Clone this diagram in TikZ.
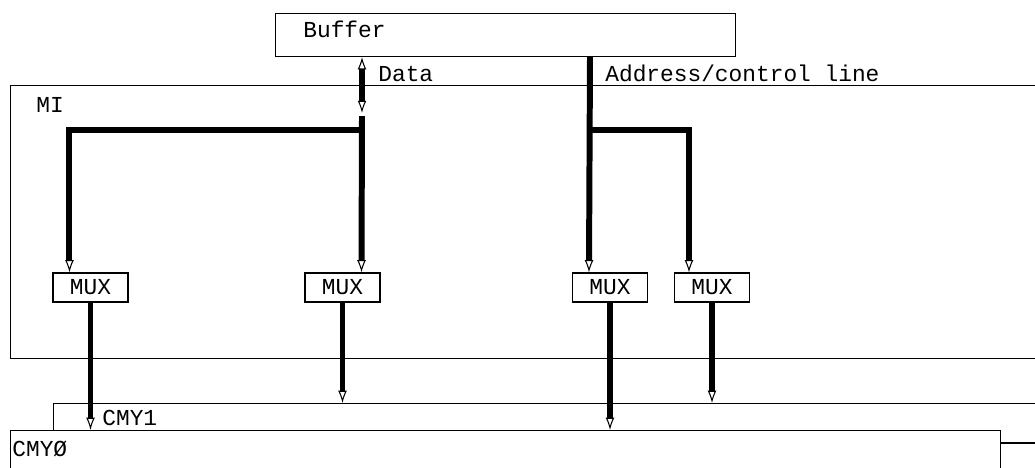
\documentclass[tikz,border=0pt]{standalone}
\usepackage{fontspec}
\setmonofont{Liberation Mono}
\usepackage{tikz}
\usetikzlibrary{arrows.meta, positioning, calc}

\begin{document}
\begin{tikzpicture}[x=0.02cm, y=-0.02cm,
    every node/.style={font=\ttfamily\fontsize{13}{15}\selectfont, inner sep=0pt},
    frame/.style={draw, line width=0.6pt, fill=white},
    muxbox/.style={draw, line width=0.6pt, fill=white, minimum width=1.5cm, minimum height=0.58cm},
    txt/.style={anchor=base west},
    bus/.style={line width=3.4pt},
    tip/.style={-{Latex[open, length=7pt, width=5pt, line width=0.6pt]}},
    both/.style={{Latex[open, length=7pt, width=5pt, line width=0.6pt]}-{Latex[open, length=7pt, width=5pt, line width=0.6pt]}}]
    \useasboundingbox (0,0) rectangle (1035,467);
    \clip (0,0) rectangle (1035,467);
    % boxes
    \node[frame, minimum width=9.2cm, minimum height=0.86cm, anchor=north west] (buffer) at (275,13) {};
    \node[txt] (buffertxt) at (303,37) {Buffer};
    \node[frame, minimum width=20.8cm, minimum height=5.46cm, anchor=north west] (mi) at (10,85) {};
    \node[txt] (mitxt) at (36,112) {MI};
    \node[frame, minimum width=20.8cm, minimum height=1.6cm, anchor=north west] (cmy1) at (53,403) {};
    \node[frame, minimum width=19.8cm, minimum height=1cm, anchor=north west] (cmy0) at (10,430) {};
    \node[txt] (cmy1txt) at (102,425) {CMY1};
    \node[txt] (cmy0txt) at (12,456) {CMYØ};
    \node[muxbox] (mux1) at (90.5,287.5) {MUX};
    \node[muxbox] (mux2) at (342.5,287.5) {MUX};
    \node[muxbox] (mux3) at (610,287.5) {MUX};
    \node[muxbox] (mux4) at (712,287.5) {MUX};
    % bus labels
    \node[txt] (datatxt) at (378,81) {Data};
    \node[txt] (addrtxt) at (605,81) {Address/control line};
    % data bus
    \draw[bus, both] ($(buffer.south west)+(87,0)$) -- ++(0,56) coordinate (dend);
    \coordinate (dsplit) at (362,130);
    \draw[bus, tip] ($(dend)+(0,3)$) -- ($(mux2.north west)+(57,0)$);
    \draw[bus, tip] (dsplit) -| ($(mux1.north west)+(17,0)$);
    % address/control bus
    \coordinate (asplit) at (590,130);
    \draw[bus, tip] ($(buffer.south west)+(315,0)$) -- ($(mux3.north west)+(17,0)$);
    \draw[bus, tip] (asplit) -| ($(mux4.north west)+(15,0)$);
    % to the memories
    \draw[bus, tip] (mux1.south) -- (mux1.south |- cmy0.north);
    \draw[bus, tip] (mux2.south) -- (mux2.south |- cmy1.north);
    \draw[bus, tip] (mux3.south) -- (mux3.south |- cmy0.north);
    \draw[bus, tip] (mux4.south) -- (mux4.south |- cmy1.north);
    \draw[line width=0.6pt] ($(cmy0.north east)+(0,13)$) -- ++(50,0) coordinate (cmyout);
\end{tikzpicture}
\end{document}
